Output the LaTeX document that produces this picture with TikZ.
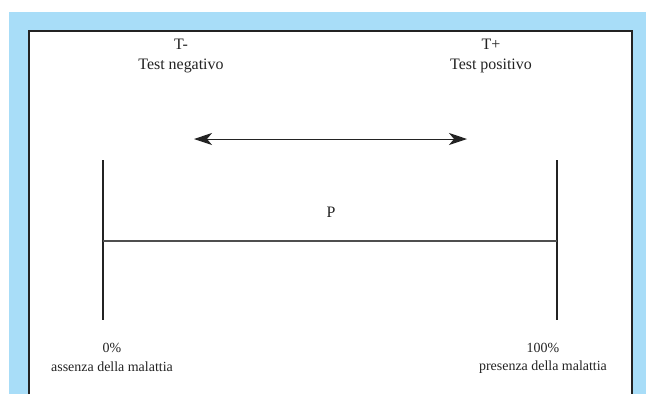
\documentclass[tikz,border=0pt]{standalone}
\usepackage{fontspec}
\setmainfont{Liberation Serif}
\usetikzlibrary{arrows.meta}
\definecolor{frameblue}{RGB}{168,221,248}
\definecolor{ink}{RGB}{35,35,35}
\tikzset{
  lbl/.style={inner sep=0pt, text=ink, font=\fontsize{14}{16}\selectfont, anchor=center},
  biglbl/.style={lbl, font=\fontsize{16}{18}\selectfont},
  axis/.style={draw=ink, line width=1.3bp},
  dblarrow/.style={draw=ink, line width=1bp, {Stealth[length=18bp,width=12bp,inset=5bp]}-{Stealth[length=18bp,width=12bp,inset=5bp]}}
}
\begin{document}
\begin{tikzpicture}[x=1bp,y=-1bp]
\useasboundingbox (0,0) rectangle (646,394);
\fill[frameblue] (9,12) rectangle (646,394);
\fill[white] (29,31) rectangle (632,394);
\draw[ink, line width=1.5bp] (29,394) -- (29,31) -- (632,31) -- (632,394);
% axes
\coordinate (lt) at (103,160);
\coordinate (lb) at (103,320);
\coordinate (rt) at (557,160);
\coordinate (rb) at (557,320);
\coordinate (lm) at (103,241);
\coordinate (rm) at (557,241);
\draw[axis] (lt) -- (lb);
\draw[axis] (rt) -- (rb);
\draw[axis, draw=ink!80] (lm) -- (rm);
\node[biglbl] (p) at (331,212) {P};
% arrow
\coordinate (al) at (194,139);
\coordinate (ar) at (467,139);
\draw[dblarrow] (al) -- (ar);
% labels
\node[biglbl] (tm) at (181,44) {T-};
\node[biglbl] (tn) at (181,66) {Test negativo};
\node[biglbl] (tp) at (491,44) {T+};
\node[biglbl] (tpp) at (491,66) {Test positivo};
\node[lbl] (z) at (112,348) {0\%};
\node[lbl] (za) at (112,367) {assenza della malattia};
\node[lbl] (h) at (543,348) {100\%};
\node[lbl] (hp) at (543,367) {presenza della malattia};
\end{tikzpicture}
\end{document}
